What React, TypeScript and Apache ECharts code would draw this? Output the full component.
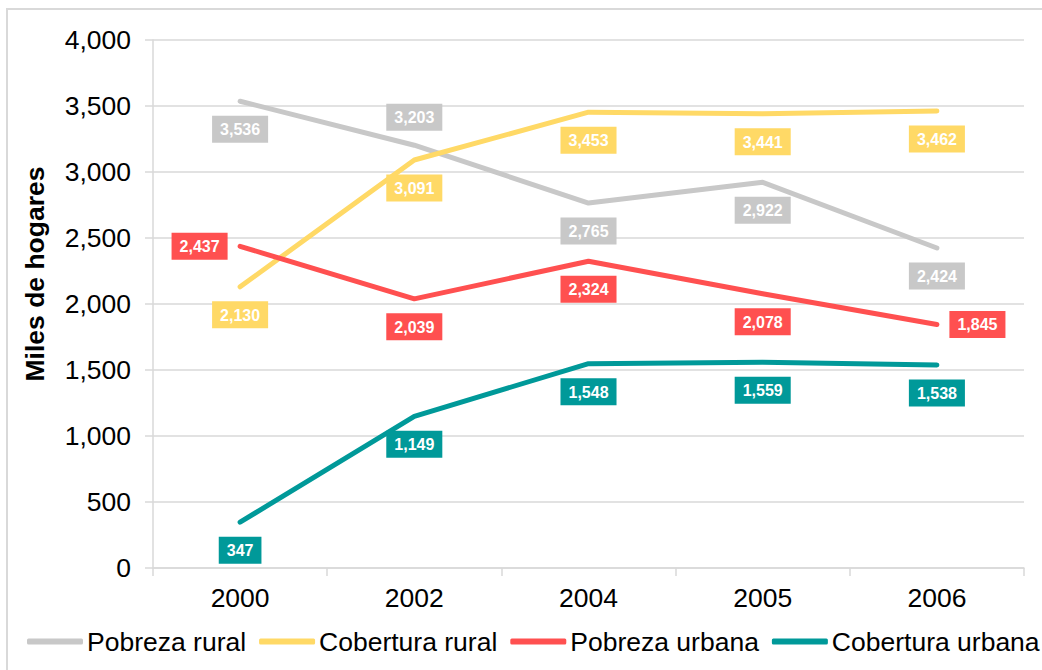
import React, { useEffect, useRef } from "react";
import * as echarts from "echarts";

const years = ["2000", "2002", "2004", "2005", "2006"];
const pobrezaRural = [3536, 3203, 2765, 2922, 2424];
const coberturaRural = [2130, 3091, 3453, 3441, 3462];
const pobrezaUrbana = [2437, 2039, 2324, 2078, 1845];
const coberturaUrbana = [347, 1149, 1548, 1559, 1538];

const posPobrezaRural = ["bottom", "top", "bottom", "bottom", "bottom"];
const posCoberturaRural = ["bottom", "bottom", "bottom", "bottom", "bottom"];
const posPobrezaUrbana = ["left", "bottom", "bottom", "bottom", "right"];
const posCoberturaUrbana = ["bottom", "bottom", "bottom", "bottom", "bottom"];

const yAxisTitle = "Miles de hogares";

const FONT = "'Liberation Sans', Arial, sans-serif";

const fmt = (v: number) => String(v).replace(/\B(?=(\d{3})+(?!\d))/g, ",");

function makeSeries(name: string, values: number[], positions: string[], color: string) {
  return {
    name,
    type: "line",
    symbol: "circle",
    symbolSize: 1,
    showSymbol: true,
    itemStyle: { color },
    lineStyle: { color, width: 5, cap: "round", join: "round" },
    data: values.map((v, i) => ({
      value: v,
      label: { position: positions[i], distance: positions[i] === "left" || positions[i] === "right" ? 12 : 14 },
    })),
    label: {
      show: true,
      formatter: (p: any) => fmt(p.value),
      color: "#ffffff",
      fontFamily: FONT,
      fontWeight: "bold",
      fontSize: 16,
      lineHeight: 18,
      backgroundColor: color,
      padding: [5, 8, 4, 8],
    },
    emphasis: { disabled: true },
  };
}

export default function App() {
  const ref = useRef<HTMLDivElement>(null);
  useEffect(() => {
    if (!ref.current) return;
    const chart = echarts.init(ref.current, undefined, { renderer: "svg" });
    chart.setOption({
      animation: false,
      backgroundColor: "#ffffff",
      graphic: [
        {
          type: "rect",
          shape: { x: 7, y: 9, width: 1200, height: 800 },
          style: { fill: "none", stroke: "#d9d9d9", lineWidth: 2 },
          silent: true,
        },
        {
          type: "text",
          x: 35,
          y: 274,
          rotation: Math.PI / 2,
          style: {
            text: yAxisTitle,
            fontFamily: FONT,
            fontSize: 26.5,
            fontWeight: "bold",
            fill: "#000000",
            align: "center",
            verticalAlign: "middle",
          },
          silent: true,
        },
      ],
      grid: { left: 153, right: 18, top: 40, bottom: 102 },
      legend: {
        left: 27,
        top: 628,
        width: 1015,
        padding: 0,
        icon: "roundRect",
        itemWidth: 56,
        itemHeight: 6,
        itemGap: 13,
        textStyle: { fontFamily: FONT, fontSize: 26.5, color: "#000000", padding: [0, 0, 0, -1] },
        data: ["Pobreza rural", "Cobertura rural", "Pobreza urbana", "Cobertura urbana"],
      },
      xAxis: {
        type: "category",
        data: years,
        boundaryGap: true,
        axisLine: { lineStyle: { color: "#d9d9d9", width: 1.5 } },
        axisTick: { show: true, length: 8, lineStyle: { color: "#d9d9d9", width: 1.5 } },
        axisLabel: { color: "#000000", fontFamily: FONT, fontSize: 26.5, margin: 16 },
      },
      yAxis: {
        type: "value",
        min: 0,
        max: 4000,
        interval: 500,
        axisLine: { show: true, lineStyle: { color: "#d9d9d9", width: 1.5 } },
        axisTick: { show: true, length: 8, lineStyle: { color: "#d9d9d9", width: 1.5 } },
        splitLine: { lineStyle: { color: "#d9d9d9", width: 1.5 } },
        axisLabel: {
          color: "#000000",
          fontFamily: FONT,
          fontSize: 26.5,
          margin: 22,
          formatter: (v: number) => fmt(v),
        },
      },
      series: [
        makeSeries("Pobreza rural", pobrezaRural, posPobrezaRural, "#c8c8c8"),
        makeSeries("Cobertura rural", coberturaRural, posCoberturaRural, "#ffd966"),
        makeSeries("Pobreza urbana", pobrezaUrbana, posPobrezaUrbana, "#ff5050"),
        makeSeries("Cobertura urbana", coberturaUrbana, posCoberturaUrbana, "#009999"),
      ],
    });
    return () => chart.dispose();
  }, []);
  return (
    <div
      ref={ref}
      style={{ position: "absolute", left: 0, top: 0, width: 1042, height: 670 }}
    />
  );
}
